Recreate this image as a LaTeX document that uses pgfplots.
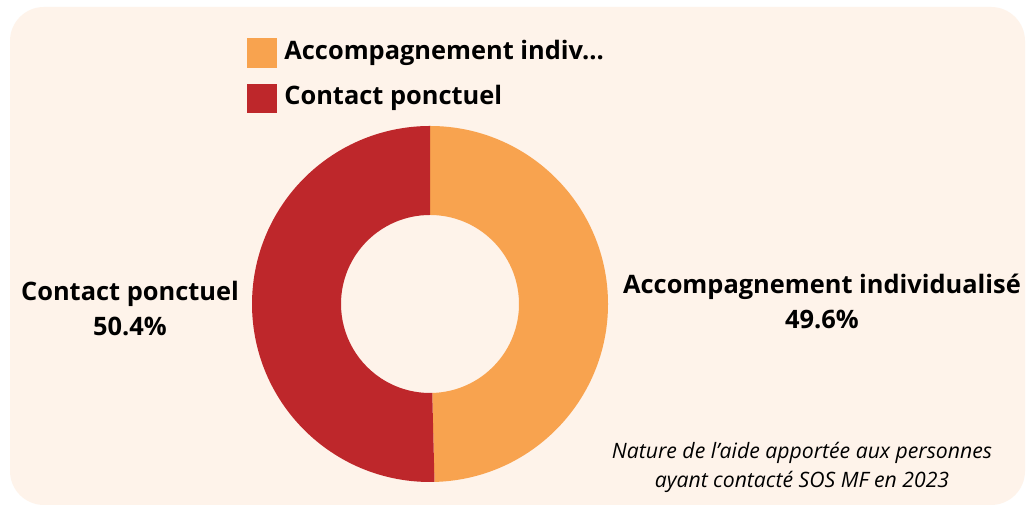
\documentclass[border=0pt]{standalone}
\usepackage{fontspec}
\setmainfont{Open Sans}
\usepackage{pgfplots}
\pgfplotsset{compat=1.18}
\definecolor{bgc}{HTML}{FEF3EA}
\definecolor{cA}{HTML}{F8A34F}
\definecolor{cB}{HTML}{BE272B}
\begin{document}
\begin{tikzpicture}
\def\valA{49.6}% Accompagnement individualisé
\def\valB{50.4}% Contact ponctuel
\pgfmathsetmacro\eA{90-3.6*\valA}
\pgfmathsetmacro\eB{\eA-3.6*\valB}
\begin{axis}[
  scale only axis, width=513.5pt, height=253pt,
  xmin=0, xmax=1027, ymin=0, ymax=506,
  hide axis, clip=false,
]
\fill[white] (axis cs:0,0) rectangle (axis cs:1027,506);
\fill[bgc, rounded corners=17pt] (axis cs:10,1) rectangle (axis cs:1025,499);
\coordinate (C) at (axis cs:430,202);
\fill[cA] ([shift={(90:89pt)}]C) arc[start angle=90, end angle=\eA, radius=89pt]
   -- ([shift={(\eA:44.5pt)}]C) arc[start angle=\eA, end angle=90, radius=44.5pt] -- cycle;
\fill[cB] ([shift={(\eA:89pt)}]C) arc[start angle=\eA, end angle=\eB, radius=89pt]
   -- ([shift={(\eB:44.5pt)}]C) arc[start angle=\eB, end angle=\eA, radius=44.5pt] -- cycle;
% legend
\fill[cA] (axis cs:247,438) rectangle (axis cs:277,468);
\fill[cB] (axis cs:247,393) rectangle (axis cs:277,422);
\node[anchor=west, inner sep=0pt, font=\bfseries\fontsize{12.7}{15}\selectfont] at (axis cs:284,453) {Accompagnement indiv...};
\node[anchor=west, inner sep=0pt, font=\bfseries\fontsize{12.7}{15}\selectfont] at (axis cs:284,408) {Contact ponctuel};
% labels
\node[align=center, inner sep=0pt, font=\bfseries\fontsize{12.7}{17.5}\selectfont] at (axis cs:130,197) {Contact ponctuel\\50.4\%};
\node[align=center, inner sep=0pt, font=\bfseries\fontsize{12.7}{17.5}\selectfont] at (axis cs:822,205) {Accompagnement individualisé\\49.6\%};
% caption
\node[align=center, inner sep=0pt, font=\itshape\fontsize{10.6}{14.5}\selectfont] at (axis cs:802,38.5) {Nature de l’aide apportée aux personnes\\ayant contacté SOS MF en 2023};
\end{axis}
\end{tikzpicture}
\end{document}
